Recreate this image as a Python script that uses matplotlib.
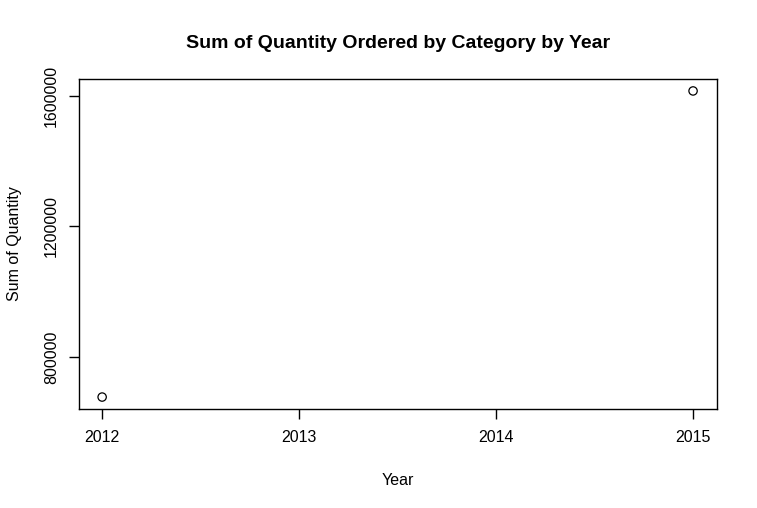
import matplotlib
matplotlib.use("Agg")
import matplotlib.pyplot as plt

# data
years = [2012, 2015]
qty = [677000, 1614000]
yticks = [800000, 1200000, 1600000]

plt.rcParams['font.family'] = ['Liberation Sans', 'DejaVu Sans']

fig = plt.figure(figsize=(7.57, 5.08), dpi=100)
W, H = 757, 508
ax = fig.add_axes([78.5 / W, 1 - 409.3 / H, (716.7 - 78.5) / W, (409.3 - 78.7) / H])

ax.scatter(years, qty, s=36, facecolors='none', edgecolors='black', linewidths=0.9)

# R-style 4% padding
pad_x = 0.04 * (max(years) - min(years))
pad_y = 0.04 * (max(qty) - min(qty))
ax.set_xlim(min(years) - pad_x, max(years) + pad_x)
ax.set_ylim(min(qty) - pad_y, max(qty) + pad_y)

ax.set_xticks([2012, 2013, 2014, 2015])
ax.set_xticklabels(['2012', '2013', '2014', '2015'])
ax.set_yticks(yticks)
ax.set_yticklabels([str(v) for v in yticks], rotation=90, va='center')

ax.tick_params(direction='out', length=7, width=1, labelsize=11.5, pad=8)
ax.tick_params(axis='y', pad=7)
for sp in ax.spines.values():
    sp.set_linewidth(1)

ax.set_xlabel('Year', fontsize=11.5, labelpad=20)
ax.set_ylabel('Sum of Quantity', fontsize=11.5, labelpad=16)
fig.text(0.5 * (78.5 + 716.7) / W, 1 - 43 / H, 'Sum of Quantity Ordered by Category by Year',
         ha='center', va='center', fontsize=14, fontweight='bold')

fig.savefig('out.png', dpi=100)
